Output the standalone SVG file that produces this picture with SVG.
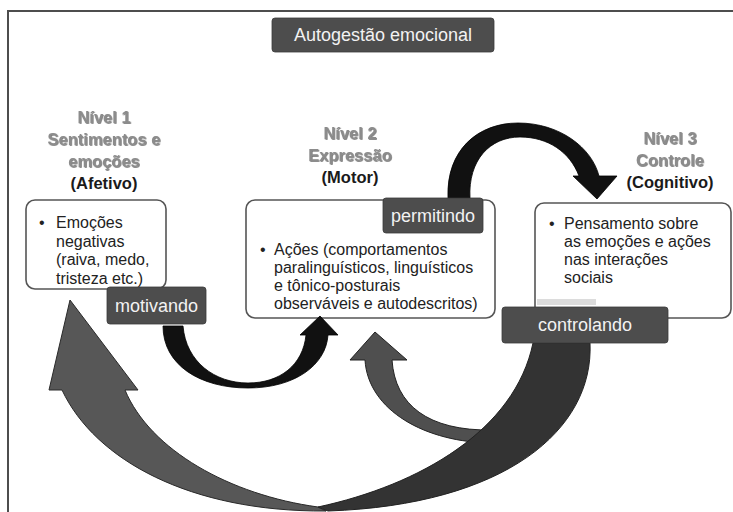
<svg xmlns="http://www.w3.org/2000/svg" width="733" height="512" viewBox="0 0 733 512">
<defs>
<filter id="glow" x="-10%" y="-20%" width="120%" height="140%">
<feDropShadow dx="0.8" dy="0.8" stdDeviation="0.6" flood-color="#333" flood-opacity="0.7"/>
</filter>
</defs>
<style>
.hd{font-family:"Liberation Sans",Arial,sans-serif;font-weight:bold;font-size:16.5px;text-anchor:middle;fill:#8c8c8c;filter:url(#glow)}
.hd2{font-family:"Liberation Sans",Arial,sans-serif;font-weight:bold;font-size:16.5px;text-anchor:middle;fill:#1a1a1a}
.box{fill:#fff;stroke:#555;stroke-width:1.6}
.tx{font-family:"Liberation Sans",Arial,sans-serif;font-size:16px;fill:#222}
.lbl{fill:#4d4d4d;stroke:#3a3a3a;stroke-width:0.8}
.lt{font-family:"Liberation Sans",Arial,sans-serif;font-size:18px;fill:#f2f2f2;text-anchor:middle}
.blk{fill:#111;stroke:#000;stroke-width:0.8}
.g1{fill:#575757;stroke:#2a2a2a;stroke-width:1}
.g2{fill:#333;stroke:#222;stroke-width:1}
.g3{fill:#4f4f4f;stroke:#222;stroke-width:1}
</style>
<rect x="8" y="11" width="740" height="520" fill="#fff" stroke="#4d4d4d" stroke-width="2"/>

<g id="title">
<rect x="272" y="18" width="222" height="34" rx="3" class="lbl"/>
<text x="383" y="41" class="lt" font-size="17.5">Autogestão emocional</text>
</g>

<g id="nivel1">
<text x="104" y="123" class="hd">Nível 1</text>
<text x="104" y="145" class="hd">Sentimentos e</text>
<text x="104" y="167" class="hd">emoções</text>
<text x="104" y="189" class="hd2">(Afetivo)</text>
<rect x="26" y="200" width="140" height="89" rx="9" class="box"/>
<text x="39" y="228" class="tx">•</text>
<text class="tx"><tspan x="56" y="228">Emoções</tspan><tspan x="56" y="247">negativas</tspan><tspan x="56" y="265">(raiva, medo,</tspan><tspan x="56" y="284">tristeza etc.)</tspan></text>
</g>

<g id="nivel2">
<text x="350" y="139" class="hd">Nível 2</text>
<text x="350" y="161" class="hd">Expressão</text>
<text x="350" y="183" class="hd2">(Motor)</text>
<rect x="246" y="200" width="249" height="118" rx="9" class="box"/>
<text x="260" y="255" class="tx">•</text>
<text class="tx"><tspan x="274" y="255">Ações (comportamentos</tspan><tspan x="274" y="273">paralinguísticos, linguísticos</tspan><tspan x="274" y="291">e tônico-posturais</tspan><tspan x="274" y="309">observáveis e autodescritos)</tspan></text>
</g>

<g id="nivel3">
<text x="670" y="144" class="hd">Nível 3</text>
<text x="670" y="166" class="hd">Controle</text>
<text x="670" y="188" class="hd2">(Cognitivo)</text>
<rect x="535" y="203" width="196" height="115" rx="9" class="box"/>
<text x="549" y="229" class="tx">•</text>
<text class="tx" font-size="15.5"><tspan x="564" y="229">Pensamento sobre</tspan><tspan x="564" y="247">as emoções e ações</tspan><tspan x="564" y="265">nas interações</tspan><tspan x="564" y="283">sociais</tspan></text>
<rect x="537" y="299" width="59" height="6" fill="#dcdcdc"/>
</g>

<g id="connectors">
<path id="arc-permitindo" class="blk" d="M448,198 C446,150 478,123 518,123 C560,123 592,148 599,176 L617,176 L597,199 L573,176 L579,176 C570,152 548,137 520,137 C490,137 468,160 470,198 Z"/>
<path id="arc-motivando" class="blk" d="M163,326 C163,365 200,388 248,388 C295,388 326,365 328,335 L338,335 L320,316 L300,335 L306,335 C303,365 280,383 248,383 C215,383 186,362 183,326 Z"/>
<path id="arc-to-nivel2" class="g3" d="M375,332 L407,360 L392,360 C395,405 428,431 492,430 L494,443 C425,443 368,410 365,360 L350,360 Z"/>
<path id="arc-to-nivel1" class="g1" d="M70,300 L138,390 L125,390 C150,450 230,495 318,507 L326,511 C190,512 95,460 62,390 L49,390 Z"/>
<path id="arc-controlando" class="g2" d="M533,343 L590,343 C594,430 505,505 328,511 L318,507 C420,485 515,430 533,343 Z"/>
</g>

<g id="label-motivando">
<rect x="107" y="287" width="99" height="37" rx="3" class="lbl"/>
<text x="156.5" y="312" class="lt">motivando</text>
</g>
<g id="label-permitindo">
<rect x="383" y="198" width="100" height="35" rx="3" class="lbl"/>
<text x="433" y="222" class="lt">permitindo</text>
</g>
<g id="label-controlando">
<rect x="502" y="307" width="166" height="36" rx="3" class="lbl"/>
<text x="585" y="331" class="lt">controlando</text>
</g>
</svg>
